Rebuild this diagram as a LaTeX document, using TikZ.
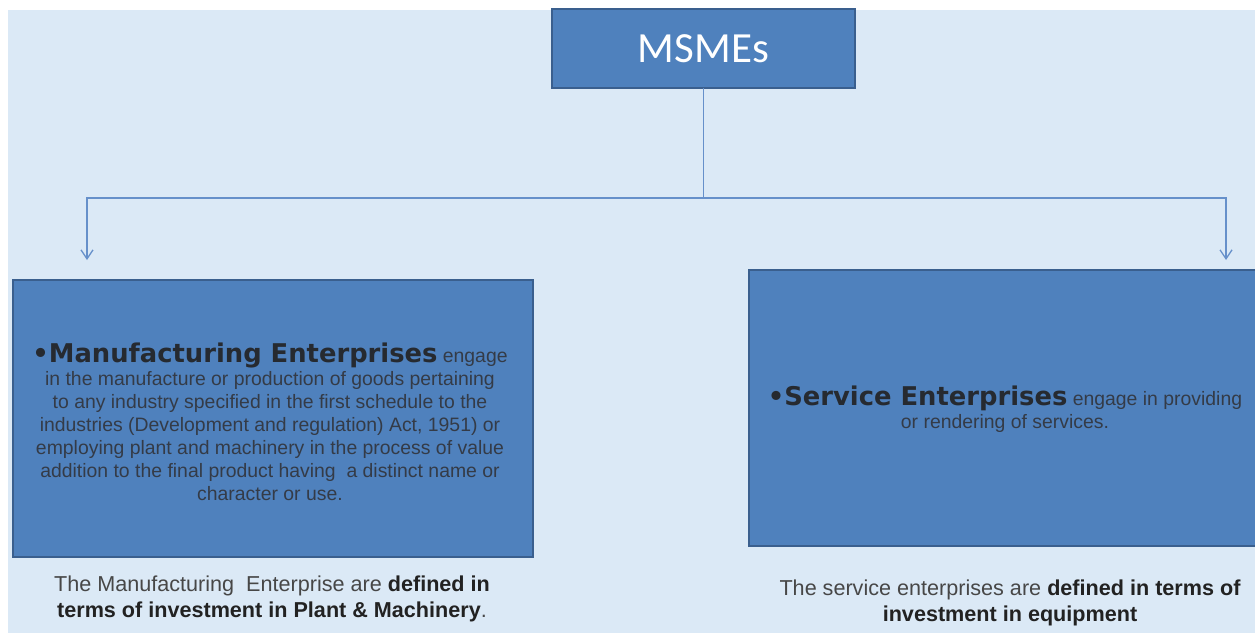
\documentclass[tikz,border=0pt]{standalone}
\usepackage{fontspec}
\setmainfont{Liberation Sans}
\newfontfamily\headfont{DejaVu Sans}
\newfontfamily\titlefont{Carlito}
\usetikzlibrary{arrows.meta}
\definecolor{pagebg}{HTML}{DBE9F6}
\definecolor{boxfill}{HTML}{4F81BD}
\definecolor{boxedge}{HTML}{3A5F8E}
\definecolor{linkcol}{HTML}{6690CA}
\definecolor{headtext}{HTML}{262A30}
\definecolor{bodytext}{HTML}{343B47}
\definecolor{capgray}{HTML}{474747}
\definecolor{capdark}{HTML}{222222}
\tikzset{
  panel/.style={draw=boxedge, line width=2pt, fill=boxfill, inner sep=0pt},
  link/.style={draw=linkcol, line width=1.8pt},
  linkarrow/.style={link, -{Straight Barb[length=9pt,width=12pt,line width=1.3pt]}},
  bodytxt/.style={align=center, text=bodytext, inner sep=0pt,
    font=\fontsize{19.4}{23}\selectfont},
  captxt/.style={align=center, text=capgray, inner sep=0pt,
    font=\fontsize{21.6}{25.5}\selectfont},
}
\newcommand{\headword}[1]{{\headfont\bfseries\fontsize{25.8}{23}\selectfont\color{headtext}#1}}
\newcommand{\capbold}[1]{{\bfseries\color{capdark}#1}}
\begin{document}
\begin{tikzpicture}[x=1pt,y=-1pt]
  % page and background panel
  \fill[white] (0,0) rectangle (1255,633);
  \fill[pagebg] (8,10) rectangle (1255,633);
  \useasboundingbox (0,0) rectangle (1255,633);

  % title box
  \draw[panel] (552,9) rectangle (855,88);
  \node[text=white, font=\titlefont\fontsize{43}{43}\selectfont, inner sep=0pt]
    (msme) at (703.5,48.5) {MSMEs};
  \coordinate (msmebot) at (703.5,88);

  % connectors
  \coordinate (junc) at (703.5,198);
  \coordinate (lend) at (87,260);
  \coordinate (rend) at (1226,260);
  \draw[link] (msmebot) -- (junc);
  \draw[linkarrow] (junc) -| (lend);
  \draw[linkarrow] (junc) -| (rend);

  % manufacturing panel
  \draw[panel] (13,280) rectangle (533,557);
  \node[bodytxt] (mfg) at (270,422) {%
    \headword{•Manufacturing Enterprises} engage\\
    in the manufacture or production of goods pertaining\\
    to any industry specified in the first schedule to the\\
    industries (Development and regulation) Act, 1951) or\\
    employing plant and machinery in the process of value\\
    addition to the final product having \ a distinct name or\\
    character or use.};

  % service panel
  \draw[panel] (749,270) rectangle (1262,546);
  \node[bodytxt] (svc) at (1005,409) {%
    \headword{•Service Enterprises} engage in providing\\
    or rendering of services.};

  % captions below the panels
  \node[captxt] (mfgcap) at (272,599) {%
    The Manufacturing \ Enterprise are \capbold{defined in}\\
    \capbold{terms of investment in Plant \& Machinery}.};
  \node[captxt] (svccap) at (1010,603) {%
    The service enterprises are \capbold{defined in terms of}\\
    \capbold{investment in equipment}};
\end{tikzpicture}
\end{document}
